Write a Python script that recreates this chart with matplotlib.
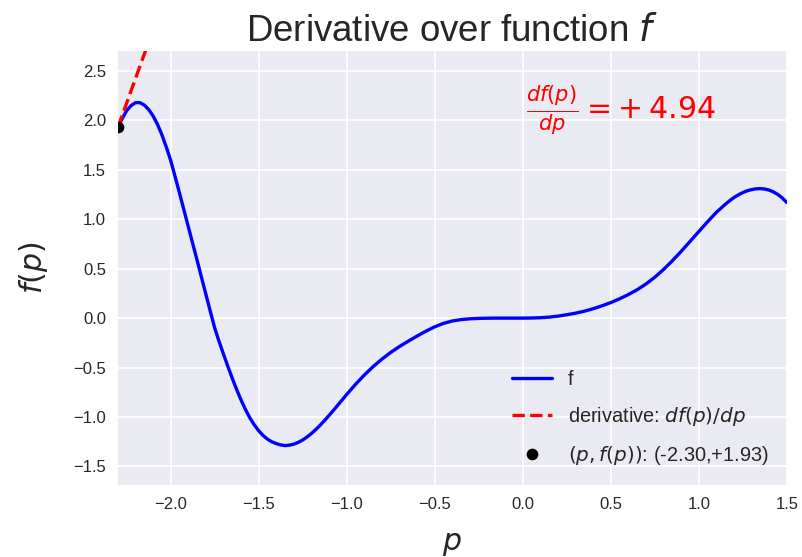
import numpy as np
import matplotlib
matplotlib.use('Agg')
import matplotlib.pyplot as plt

# values of f
# (denser steps where the curve bends sharply)
p_values = [
    -2.300, -2.275, -2.250, -2.225, -2.200, -2.175, -2.150, -2.125, -2.100, -2.075,
    -2.050, -2.025, -2.000, -1.975, -1.950, -1.925, -1.900, -1.875, -1.850, -1.825,
    -1.800, -1.775, -1.750, -1.725, -1.700, -1.675, -1.650, -1.625, -1.600, -1.575,
    -1.550, -1.525, -1.500, -1.475, -1.450, -1.425, -1.400, -1.375, -1.350, -1.325,
    -1.300, -1.275, -1.250, -1.225, -1.200, -1.175, -1.150, -1.125, -1.100, -1.075,
    -1.050, -1.025, -1.000,
    -0.95, -0.90, -0.85, -0.80, -0.75, -0.70, -0.65, -0.60, -0.55, -0.50,
    -0.45, -0.40, -0.35, -0.30, -0.25, -0.20, -0.15, -0.10, -0.05, 0.00,
    0.05, 0.10, 0.15, 0.20, 0.25, 0.30, 0.35, 0.40, 0.45, 0.50,
    0.55, 0.60, 0.65, 0.70, 0.75, 0.80, 0.85, 0.90, 0.95, 1.00,
    1.05, 1.10, 1.15,
    1.175, 1.200, 1.225, 1.250, 1.275, 1.300, 1.325, 1.350, 1.375, 1.400,
    1.425, 1.450, 1.475, 1.500,
]
f_values = [
    1.93, 2.02, 2.10, 2.15, 2.18, 2.18, 2.155, 2.11, 2.045, 1.96,
    1.855, 1.73, 1.595, 1.432, 1.265, 1.095, 0.925, 0.755, 0.585, 0.412,
    0.24, 0.068, -0.10, -0.237, -0.365, -0.49, -0.61, -0.724, -0.83, -0.926,
    -1.01, -1.081, -1.14, -1.188, -1.225, -1.252, -1.27, -1.283, -1.29, -1.285,
    -1.275, -1.257, -1.233, -1.202, -1.167, -1.126, -1.082, -1.034, -0.984, -0.932,
    -0.879, -0.826, -0.772,
    -0.67, -0.576, -0.491, -0.415, -0.347, -0.287, -0.233, -0.181, -0.132, -0.088,
    -0.053, -0.029, -0.015, -0.007, -0.003, -0.001, 0.0, 0.0, 0.0, 0.0,
    0.001, 0.004, 0.01, 0.02, 0.034, 0.05, 0.07, 0.095, 0.124, 0.157,
    0.195, 0.238, 0.287, 0.345, 0.413, 0.492, 0.58, 0.675, 0.775, 0.875,
    0.975, 1.07, 1.15,
    1.187, 1.22, 1.247, 1.27, 1.288, 1.30, 1.308, 1.31, 1.306, 1.295,
    1.276, 1.25, 1.215, 1.17,
]

# point where the derivative is shown
p0 = -2.30
f0 = 1.93
slope = 4.94
tangent_p = np.array([p0, p0 + 0.4])
tangent_f = f0 + slope * (tangent_p - p0)

plt.style.use('seaborn-v0_8')

fig = plt.figure(figsize=(802 / 120, 557 / 120), dpi=120)
ax = fig.add_axes([0.147, 0.129, 0.834, 0.779])

ax.plot(p_values, f_values, 'b', lw=2.0, label='f')
ax.plot(tangent_p, tangent_f, 'r--', lw=2.0, label='derivative: $df(p)/dp$')
ax.plot([p0], [f0], 'ko', label='$(p, f(p))$: ({:.2f},{:+.2f})'.format(p0, f0))

ax.text(0.02, 2.1, r'$\frac{df(p)}{dp} = +\:%.2f$' % slope, color='r',
        fontsize=18, ha='left', va='center')

ax.set_xlim(-2.3, 1.5)
ax.set_ylim(-1.69, 2.7)
ax.set_xticks(np.arange(-2.0, 1.51, 0.5))
ax.set_yticks(np.arange(-1.5, 2.51, 0.5))
ax.set_title('Derivative over function $f$', fontsize=22)
ax.set_xlabel('$p$', fontsize=18, labelpad=11)
ax.set_ylabel('$f(p)$', fontsize=18, labelpad=14)
ax.legend(loc='lower right', fontsize=12, labelspacing=0.8)

fig.savefig('out.png', dpi=120)
